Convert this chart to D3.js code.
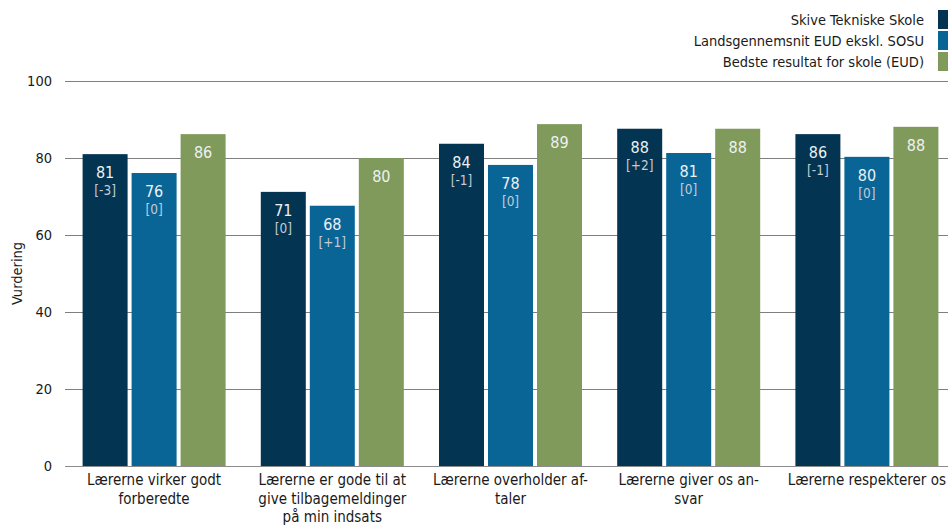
<!DOCTYPE html>
<html>
<head>
<meta charset="utf-8">
<script src="https://cdn.jsdelivr.net/npm/d3@7"></script>
<style>
  html, body { margin: 0; padding: 0; background: #fff; }
  svg { display: block; }
  text { font-family: "DejaVu Sans Condensed", "DejaVu Sans", sans-serif; }
</style>
</head>
<body>
<svg id="chart" width="948" height="526"></svg>
<script>
// ---- data ----
const categories = [
  "Lærerne virker godt forberedte",
  "Lærerne er gode til at give tilbagemeldinger på min indsats",
  "Lærerne overholder aftaler",
  "Lærerne giver os ansvar",
  "Lærerne respekterer os"
];
const categoryLines = [
  ["Lærerne virker godt", "forberedte"],
  ["Lærerne er gode til at", "give tilbagemeldinger", "på min indsats"],
  ["Lærerne overholder af-", "taler"],
  ["Lærerne giver os an-", "svar"],
  ["Lærerne respekterer os"]
];
const seriesNames = ["Skive Tekniske Skole", "Landsgennemsnit EUD ekskl. SOSU", "Bedste resultat for skole (EUD)"];
const skiveValues = [81.0, 71.2, 83.7, 87.6, 86.2];
const landsValues = [76.1, 67.6, 78.2, 81.3, 80.3];
const bedsteValues = [86.2, 80.0, 88.8, 87.6, 88.1];
const skiveChange = ["[-3]", "[0]", "[-1]", "[+2]", "[-1]"];
const landsChange = ["[0]", "[+1]", "[0]", "[0]", "[0]"];
const bedsteChange = [null, null, null, null, null];
const yTicks = [0, 20, 40, 60, 80, 100];
const colors = ["#033452", "#0A6597", "#7F9A5A"];

const seriesValues = [skiveValues, landsValues, bedsteValues];
const seriesChanges = [skiveChange, landsChange, bedsteChange];

// ---- layout ----
const svg = d3.select("#chart");
const x0 = d3.scaleBand().domain(categories).range([65, 956])
  .paddingInner(0.1975).paddingOuter(0.09875);
const x1 = d3.scaleBand().domain(seriesNames).range([0, x0.bandwidth()])
  .paddingInner(4 / 49).paddingOuter(0);
const y = d3.scaleLinear().domain([0, 100]).range([466, 81]);

// gridlines
svg.append("g")
  .selectAll("line")
  .data(yTicks)
  .join("line")
  .attr("x1", 65).attr("x2", 948)
  .attr("y1", d => Math.round(y(d)) + 0.5).attr("y2", d => Math.round(y(d)) + 0.5)
  .attr("stroke", "#7f7f7f").attr("stroke-width", 1);

// y axis labels
const yAxis = d3.axisLeft(y).tickValues(yTicks).tickSize(0).tickPadding(0);
const gy = svg.append("g").attr("transform", "translate(52,0)").call(yAxis);
gy.select(".domain").remove();
gy.selectAll("text")
  .attr("font-size", "14.5px").attr("fill", "#1a1a1a")
  .style("font-family", '"DejaVu Sans Condensed", "DejaVu Sans", sans-serif');

// y title
svg.append("text")
  .attr("transform", `translate(22,${(y(0) + y(100)) / 2}) rotate(-90)`)
  .attr("text-anchor", "middle")
  .attr("font-size", "14.5px").attr("fill", "#1a1a1a")
  .text("Vurdering");

// bars
const groups = svg.append("g").selectAll("g")
  .data(categories)
  .join("g")
  .attr("transform", d => `translate(${x0(d)},0)`);

groups.each(function(cat, ci) {
  const g = d3.select(this);
  seriesNames.forEach((s, si) => {
    const v = seriesValues[si][ci];
    const bx = x1(s);
    const bw = x1.bandwidth();
    g.append("rect")
      .attr("x", bx).attr("y", y(v))
      .attr("width", bw).attr("height", y(0) - y(v))
      .attr("fill", colors[si]);
    g.append("text")
      .attr("x", bx + bw / 2).attr("y", y(v) + 24)
      .attr("text-anchor", "middle")
      .attr("font-size", "16px").attr("fill", "#eef1f3")
      .text(d3.format(".0f")(v));
    const ch = seriesChanges[si][ci];
    if (ch) {
      g.append("text")
        .attr("x", bx + bw / 2).attr("y", y(v) + 41)
        .attr("text-anchor", "middle")
        .attr("font-size", "13.5px").attr("fill", "#c3ccd6")
        .text(ch);
    }
  });
});

// x axis line
svg.append("line")
  .attr("x1", 65).attr("x2", 948)
  .attr("y1", 466.5).attr("y2", 466.5)
  .attr("stroke", "#8c8c8c").attr("stroke-width", 1);

// category labels
categories.forEach((c, ci) => {
  const cx = x0(c) + x0.bandwidth() / 2;
  const t = svg.append("text")
    .attr("text-anchor", "middle")
    .attr("font-size", "15px").attr("fill", "#1a1a1a");
  categoryLines[ci].forEach((line, li) => {
    t.append("tspan").attr("x", cx).attr("y", 485 + li * 18.5).text(line);
  });
});

// legend
const legend = svg.append("g");
seriesNames.forEach((s, si) => {
  const ly = 10 + si * 21;
  legend.append("rect")
    .attr("x", 938).attr("y", ly).attr("width", 10).attr("height", 19)
    .attr("fill", colors[si]);
  legend.append("text")
    .attr("x", 924).attr("y", ly + 14.5)
    .attr("text-anchor", "end")
    .attr("font-size", "14.5px").attr("fill", "#1a1a1a")
    .text(s);
});
</script>
</body>
</html>
